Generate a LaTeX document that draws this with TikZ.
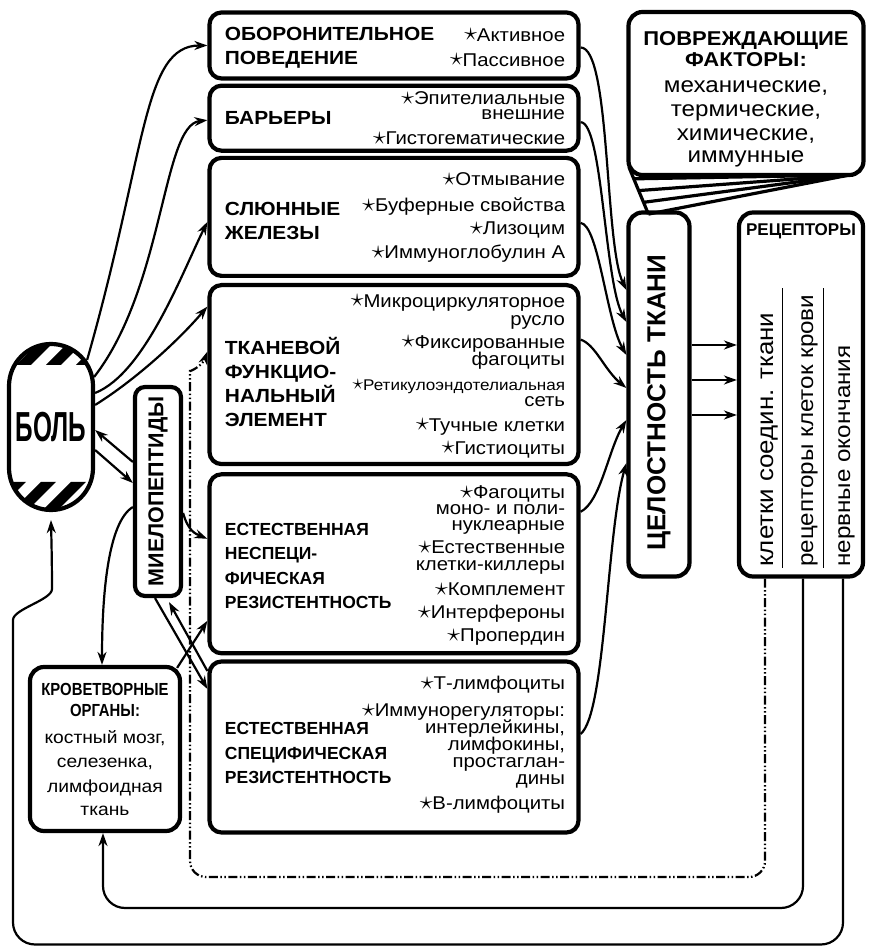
\documentclass[tikz,border=0pt]{standalone}
\usepackage{fontspec}
\setmainfont{Liberation Sans}[FakeStretch=1.1]
\newfontfamily\plainsf{Liberation Sans}
\newfontfamily\narrowsf{Liberation Sans}[FakeStretch=0.85]
\usepackage{graphicx}
\usetikzlibrary{arrows.meta,positioning,calc}
\newcommand{\starmark}{\raisebox{0.3pt}{\scalebox{1.5}{$\star$}}}
\newcommand{\listfont}{\fontsize{18.5}{17}\selectfont\lineskiplimit=-20pt\relax}

\begin{document}
\begin{tikzpicture}[x=1pt,y=1pt,
  box/.style={draw, line width=4.2pt, rounded corners=12pt, minimum width=369pt, inner sep=0pt},
  frame/.style={draw, line width=4.2pt, rounded corners=14pt},
  ttl/.style={anchor=west, align=left, font=\bfseries\fontsize{19}{24}\selectfont},
  ttlsm/.style={anchor=west, align=left, font=\plainsf\bfseries\fontsize{17.5}{24.5}\selectfont},
  lst/.style={anchor=east, align=right, font=\listfont},
  vtext/.style={rotate=90, anchor=base west, inner sep=0pt, font=\fontsize{22}{22}\selectfont},
  arr/.style={line width=2.2pt, -{Stealth[length=13pt,width=9pt]}},
  ddot/.style={line width=2.2pt, dash pattern=on 9pt off 2.5pt on 1.5pt off 2.5pt on 1.5pt off 2.5pt}]
  \useasboundingbox (0,0) rectangle (868,947);

  % left column of boxes
  \node (oborona) [box, minimum height=66pt] at (394,901.5) {};
  \node (barer) [box, minimum height=65pt, below=3pt of oborona] {};
  \node (slyuna) [box, minimum height=118pt, below=3pt of barer] {};
  \node (tkan) [box, minimum height=179pt, below=5pt of slyuna] {};
  \node (nespec) [box, minimum height=179pt, below=6pt of tkan] {};
  \node (spec) [box, minimum height=171pt, below=4pt of nespec] {};

  \node (oborona-t) [ttl] at ([xshift=14pt,yshift=-2pt]oborona.west) {ОБОРОНИТЕЛЬНОЕ\\ПОВЕДЕНИЕ};
  \node (barer-t) [ttl] at ([xshift=14pt]barer.west) {БАРЬЕРЫ};
  \node (slyuna-t) [ttl] at ([xshift=14pt,yshift=-4pt]slyuna.west) {СЛЮННЫЕ\\ЖЕЛЕЗЫ};
  \node (tkan-t) [ttl] at ([xshift=14pt,yshift=-7pt]tkan.west) {ТКАНЕВОЙ\\ФУНКЦИО-\\НАЛЬНЫЙ\\ЭЛЕМЕНТ};
  \node (nespec-t) [ttlsm] at ([xshift=14pt,yshift=-2pt]nespec.west) {ЕСТЕСТВЕННАЯ\\НЕСПЕЦИ-\\ФИЧЕСКАЯ\\РЕЗИСТЕНТНОСТЬ};
  \node (spec-t) [ttlsm] at ([xshift=14pt,yshift=-6pt]spec.west) {ЕСТЕСТВЕННАЯ\\СПЕЦИФИЧЕСКАЯ\\РЕЗИСТЕНТНОСТЬ};

  \node (oborona-l) [lst] at ([xshift=-12pt,yshift=-2pt]oborona.east) {\starmark Активное\\[8pt]\starmark Пассивное};
  \node (barer-l) [lst] at ([xshift=-12pt]barer.east) {\starmark Эпителиальные\\[-1.5pt]внешние\\[8pt]\starmark Гистогематические};
  \node (slyuna-l) [lst] at ([xshift=-12pt,yshift=-1pt]slyuna.east) {\starmark Отмывание\\[9pt]\starmark Буферные свойства\\[6pt]\starmark Лизоцим\\[7pt]\starmark Иммуноглобулин А};
  \node (tkan-l) [lst] at ([xshift=-12pt,yshift=-1.5pt]tkan.east) {\starmark Микроциркуляторное\\[1pt]русло\hspace*{6pt}\\[6pt]\starmark Фиксированные\\фагоциты\hspace*{12pt}\\[8pt]{\fontsize{15.5}{17}\selectfont\starmark Ретикулоэндотелиальная}\\[-1pt]сеть\\[8pt]\starmark Тучные клетки\\[6pt]\starmark Гистиоциты};
  \node (nespec-l) [lst] at ([xshift=-12pt,yshift=-2pt]nespec.east) {\starmark Фагоциты\\[-1pt]моно- и поли-\\[-1pt]нуклеарные\\[6pt]\starmark Естественные\\клетки-киллеры\\[8pt]\starmark Комплемент\\[6pt]\starmark Интерфероны\\[6pt]\starmark Пропердин};
  \node (spec-l) [lst] at ([xshift=-12pt,yshift=2pt]spec.east) {\starmark Т-лимфоциты\\[10pt]\starmark Иммунорегуляторы:\\интерлейкины,\\лимфокины,\\простаглан-\\дины\\[8pt]\starmark В-лимфоциты};

  % pain, myelopeptides, blood-forming organs
  \node (bol) [draw, line width=4.2pt, rounded corners=42pt, minimum width=84pt, minimum height=166pt,
    font=\plainsf\bfseries\fontsize{42}{42}\selectfont] at (51,520) {\scalebox{0.58}[1]{БОЛЬ}};
  \begin{scope}
    \clip [rounded corners=42pt] ([shift={(2.1pt,2.1pt)}]bol.south west) rectangle ([shift={(-2.1pt,-2.1pt)}]bol.north east);
    \foreach \i in {0,...,4} {
      \fill ({-14+30*\i},582) -- ++(15,0) -- ++(24,24) -- ++(-15,0) -- cycle;
      \fill ({-20+30*\i},434) -- ++(15,0) -- ++(31,31) -- ++(-15,0) -- cycle;
    }
  \end{scope}
  \node (mp) [frame, rounded corners=10pt, minimum width=46pt, minimum height=209pt] at (158,455.5) {};
  \node (mp-t) [rotate=90, font=\plainsf\bfseries\fontsize{21.5}{21.5}\selectfont] at (mp.center) {МИЕЛОПЕПТИДЫ};
  \node (krov) [frame, minimum width=150pt, minimum height=164pt, align=center,
    font=\fontsize{17.5}{24.5}\selectfont] at (105,198)
    {{\narrowsf\bfseries КРОВЕТВОРНЫЕ}\\[-3.5pt]{\narrowsf\bfseries ОРГАНЫ:}\\[2.5pt]костный мозг,\\селезенка,\\лимфоидная\\[-1.5pt]ткань};

  % right part
  \node (povr) [frame, minimum width=235pt, minimum height=163pt] at (746,853.5) {};
  \node (povr-t) [align=center, font=\fontsize{22}{24}\selectfont] at ([yshift=-6pt]povr.center)
    {{\bfseries\fontsize{20}{20}\selectfont ПОВРЕЖДАЮЩИЕ}\\[-3pt]{\bfseries\fontsize{20}{20}\selectfont ФАКТОРЫ:}\\[2pt]механические,\\термические,\\химические,\\[-2pt]иммунные};
  \coordinate (wa) at ([shift={(2.5pt,10pt)}]povr.south west);
  \coordinate (wb) at ([shift={(-16pt,2.1pt)}]povr.south east);
  \coordinate (wc) at ([shift={(22pt,-37pt)}]povr.south west);
  \draw [line width=3.2pt] (wa) -- (wc);
  \foreach \f in {0.25,0.5,0.75,1}
    \draw [line width=3.2pt] ($(wa)!\f!(wc)$) -- (wb);

  \node (cel) [frame, minimum width=61pt, minimum height=364pt] at (659,552.5) {};
  \node (cel-t) [rotate=90, font=\plainsf\bfseries\fontsize{26}{26}\selectfont] at ([yshift=-8pt]cel.center) {ЦЕЛОСТНОСТЬ ТКАНИ};
  \node (rec) [frame, minimum width=124pt, minimum height=364pt] at (801,552.5) {};
  \node (rec-t) [font=\plainsf\bfseries\fontsize{17}{17}\selectfont] at ([yshift=-21pt]rec.north) {РЕЦЕПТОРЫ};
  \node (rec-a) [vtext, font=\fontsize{23.5}{23.5}\selectfont] at ([shift={(-28pt,11.75pt)}]rec.south) {клетки соедин. ткани};
  \node (rec-b) [vtext] at ([shift={(12pt,11.75pt)}]rec.south) {рецепторы клеток крови};
  \node (rec-c) [vtext] at ([shift={(49pt,11.75pt)}]rec.south) {нервные окончания};
  \draw [line width=0.8pt] ([shift={(-19pt,11pt)}]rec.south) -- ++(0,280);
  \draw [line width=0.8pt] ([shift={(22pt,11pt)}]rec.south) -- ++(0,280);

  % pain to the defence boxes
  \draw [arr] ([shift={(-8pt,67pt)}]bol.east) .. controls +(60,210) and +(-65,0) .. (oborona.west);
  \draw [arr] ([shift={(-1pt,50pt)}]bol.east) .. controls +(70,90) and +(-45,-5) .. ([yshift=-2pt]barer.west);
  \draw [arr] ([shift={(0pt,34pt)}]bol.east) .. controls +(50,20) and +(-25,-50) .. ([yshift=-5pt]slyuna.west);
  \draw [arr] ([shift={(0pt,22pt)}]bol.east) .. controls +(40,25) and +(-30,-35) .. ([yshift=68pt]tkan.west);

  % pain, myelopeptides, organs
  \draw [arr] ([yshift=29.5pt]mp.west) -- ([yshift=-3pt]bol.east);
  \draw [arr] ([yshift=-23pt]bol.east) -- ([yshift=8.5pt]mp.west);
  \draw [arr] ([yshift=-15.5pt]mp.west) .. controls +(-25,-15) and +(0,70) .. ([xshift=-3pt]krov.north);
  \draw [arr] ([yshift=-21.5pt]mp.east) .. controls +(5,-18) and +(-12,5) .. ([yshift=25pt]nespec.west);
  \draw [arr] ([shift={(-5pt,-3pt)}]krov.north east) -- ([yshift=-57pt]nespec.west);
  \draw [arr] ([xshift=-3pt]mp.south) -- ([yshift=58pt]spec.west);
  \draw [arr] ([yshift=76pt]spec.west) -- ([shift={(11pt,-4pt)}]mp.south);

  % into tissue integrity
  \draw [arr] ([yshift=-2pt]oborona.east) .. controls +(30,0) and +(-22,45) .. ([yshift=104.5pt]cel.west);
  \draw [arr] ([yshift=-4pt]barer.east) .. controls +(22,0) and +(-22,40) .. ([yshift=72.5pt]cel.west);
  \draw [arr] ([yshift=-6pt]slyuna.east) .. controls +(18,-2) and +(-20,35) .. ([yshift=39.5pt]cel.west);
  \draw [arr] ([yshift=35pt]tkan.east) .. controls +(15,-5) and +(-22,18) .. ([yshift=6.5pt]cel.west);
  \draw [arr] ([yshift=52pt]nespec.east) .. controls +(20,10) and +(-18,-30) .. ([yshift=-25.5pt]cel.west);
  \draw [arr] ([yshift=13pt]spec.east) .. controls +(25,20) and +(-20,-70) .. ([yshift=-68.5pt]cel.west);

  \draw [arr] ([yshift=49.5pt]cel.east) -- ([yshift=49.5pt]rec.west);
  \draw [arr] ([yshift=14.5pt]cel.east) -- ([yshift=14.5pt]rec.west);
  \draw [arr] ([yshift=-20.5pt]cel.east) -- ([yshift=-20.5pt]rec.west);

  % feedback from the receptors
  \draw [ddot, -{Stealth[length=13pt,width=9pt]}, rounded corners=16pt] ([xshift=-36pt]rec.south) |- (190,70) -- (190,560) to[out=90,in=-110] ([yshift=23pt]tkan.west);
  \draw [arr, rounded corners=22pt] ([xshift=2pt]rec.south) |- (103,39) -- ([xshift=-2pt]krov.south);
  \draw [arr, rounded corners=22pt] ([xshift=42pt]rec.south) |- (13,2.5) -- (13,305) to[out=90,in=-90] (52,380) -- ([yshift=-8pt]bol.south);
\end{tikzpicture}
\end{document}
